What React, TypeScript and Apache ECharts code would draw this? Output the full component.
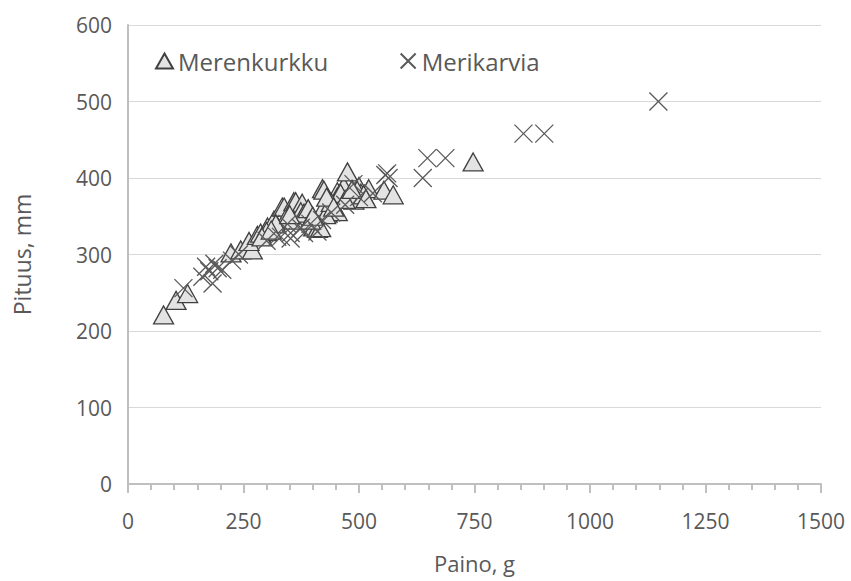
import React, { useEffect, useRef } from "react";
import * as echarts from "echarts";

const xTicks = [0, 250, 500, 750, 1000, 1250, 1500];
const yTicks = [0, 100, 200, 300, 400, 500, 600];

const seriesNames = ["Merenkurkku", "Merikarvia"];

// Merenkurkku: [paino g, pituus mm]
const merenkurkku: number[][] = [
  [77, 221], [104, 240], [129, 249], [223, 302], [244, 306], [269, 306],
  [262, 317], [280, 325], [287, 328], [302, 336], [316, 345], [334, 362],
  [338, 362], [341, 347], [359, 369], [363, 369], [377, 367], [359, 345],
  [374, 356], [381, 354], [402, 336], [410, 334], [421, 386], [424, 362],
  [431, 354], [453, 382], [453, 375], [453, 356], [467, 389], [475, 408],
  [482, 380], [500, 389], [504, 380], [496, 384], [489, 371], [521, 386],
  [554, 384], [574, 378], [747, 421], [428, 352], [417, 335], [424, 384],
  [460, 380], [300, 330], [320, 340], [350, 352], [390, 360], [440, 368],
  [470, 372], [510, 378], [290, 323], [310, 332], [395, 345], [430, 375],
  [485, 385], [515, 373], [400, 350], [445, 362],
];

// Merikarvia: [paino g, pituus mm]
const merikarvia: number[][] = [
  [120, 256], [161, 271], [169, 284], [176, 278], [183, 262], [187, 288],
  [194, 282], [204, 280], [225, 292], [240, 300], [300, 318], [323, 323],
  [331, 323], [345, 340], [352, 321], [352, 328], [374, 335], [381, 328],
  [395, 340], [410, 330], [420, 345], [440, 355], [470, 365], [488, 392],
  [500, 375], [530, 380], [557, 404], [561, 406], [564, 400], [638, 400],
  [648, 426], [687, 426], [856, 458], [901, 458], [1148, 500],
];

const FONT = "'Open Sans', 'Noto Sans', sans-serif";
const TXT = "#595959";
const crossPath = "path://M0,0L10,10M10,0L0,10";

export default function App() {
  const ref = useRef<HTMLDivElement>(null);
  useEffect(() => {
    if (!ref.current) return;
    const chart = echarts.init(ref.current, undefined, { renderer: "svg" });
    chart.setOption({
      animation: false,
      backgroundColor: "#ffffff",
      textStyle: { fontFamily: FONT },
      grid: { left: 128, right: 30, top: 25, bottom: 97, containLabel: false },
      legend: {
        left: 150,
        top: 44,
        itemGap: 70,
        itemWidth: 17,
        itemHeight: 15,
        textStyle: { fontSize: 24, color: TXT, fontFamily: FONT, padding: [0, 0, 0, 0] },
        data: [
          { name: seriesNames[0], icon: "triangle" },
          { name: seriesNames[1], icon: crossPath },
        ],
      },
      xAxis: {
        type: "value",
        min: xTicks[0],
        max: xTicks[xTicks.length - 1],
        interval: 250,
        name: "Paino, g",
        nameLocation: "middle",
        nameGap: 68,
        nameTextStyle: { fontSize: 22, color: TXT, fontFamily: FONT },
        axisLine: { show: true, lineStyle: { color: "#bfbfbf", width: 2 } },
        axisTick: { show: true, length: 9, lineStyle: { color: "#bfbfbf", width: 2 } },
        minorTick: { show: true, splitNumber: 5, length: 6, lineStyle: { color: "#bfbfbf", width: 2 } },
        axisLabel: { fontSize: 21, color: TXT, margin: 26, fontFamily: FONT, formatter: (v: number) => String(v) },
        splitLine: { show: false },
      },
      yAxis: {
        type: "value",
        min: yTicks[0],
        max: yTicks[yTicks.length - 1],
        interval: 100,
        name: "Pituus, mm",
        nameLocation: "middle",
        nameGap: 95,
        nameTextStyle: { fontSize: 23, color: TXT, fontFamily: FONT },
        axisLine: { show: true, lineStyle: { color: "#bfbfbf", width: 2 } },
        axisTick: { show: false },
        axisLabel: { fontSize: 21, color: TXT, margin: 16, fontFamily: FONT, formatter: (v: number) => String(v) },
        splitLine: { show: true, lineStyle: { color: "#d9d9d9", width: 1 } },
      },
      series: [
        {
          name: seriesNames[0],
          type: "scatter",
          symbol: "triangle",
          symbolSize: [20, 18],
          data: merenkurkku,
          itemStyle: { color: "#e3e3e3", borderColor: "#404040", borderWidth: 1.3, opacity: 1 },
          z: 2,
        },
        {
          name: seriesNames[1],
          type: "scatter",
          symbol: crossPath,
          symbolSize: 18,
          data: merikarvia,
          itemStyle: { color: "none", borderColor: "#5a5a5a", borderWidth: 1.3, opacity: 1 },
          z: 3,
        },
      ],
    });
    return () => chart.dispose();
  }, []);
  return <div ref={ref} style={{ width: 851, height: 581, position: "absolute", left: 0, top: 0 }} />;
}
